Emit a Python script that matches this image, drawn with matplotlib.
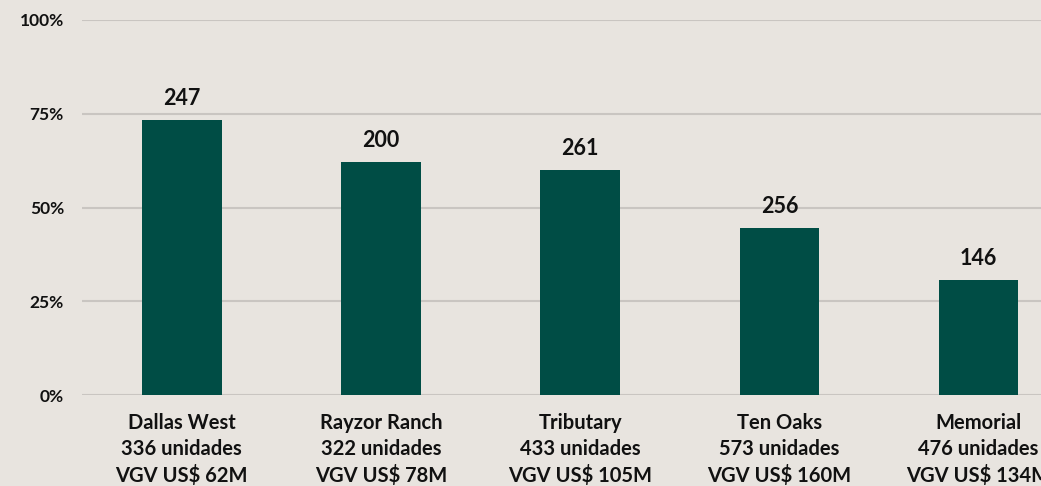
import matplotlib.pyplot as plt
import numpy as np

plt.rcParams["font.family"] = ["Lato", "DejaVu Sans"]

projects = ["Dallas West", "Rayzor Ranch", "Tributary", "Ten Oaks", "Memorial"]
units = [336, 322, 433, 573, 476]
vgv = [62, 78, 105, 160, 134]
pct_sold = [73.3, 62.1, 60.0, 44.5, 30.7]
units_sold = [247, 200, 261, 256, 146]

bg = "#E8E4DF"
bar_color = "#004D45"

fig = plt.figure(figsize=(10.41, 4.86), dpi=100, facecolor=bg)
ax = fig.add_axes([0.0788, 0.187, 0.957, 0.772], facecolor=bg)

x = np.arange(len(projects))
ax.bar(x, pct_sold, width=0.4, color=bar_color, zorder=3)

for xi, p, n in zip(x, pct_sold, units_sold):
    ax.annotate(str(n), (xi, p), xytext=(0, 8), textcoords="offset points",
                ha="center", va="bottom", fontsize=15.5, fontweight="bold",
                color="#111111")

labels = [f"{p}\n{u} unidades\nVGV US$ {v}M" for p, u, v in zip(projects, units, vgv)]
ax.set_xticks(x)
ax.set_xticklabels(labels, fontsize=14.5, fontweight="bold", color="#111111",
                   linespacing=1.36)
ax.set_xlim(-0.5, len(projects) - 0.5)
ax.set_ylim(0, 100)
ax.set_yticks([0, 25, 50, 75, 100])
ax.set_yticklabels([f"{t}%" for t in [0, 25, 50, 75, 100]], fontsize=12.5,
                   fontweight="bold", color="#111111")
ax.tick_params(axis="both", length=0)
ax.tick_params(axis="y", pad=13)
ax.tick_params(axis="x", pad=13)
ax.grid(axis="y", color="#C9C5C1", linewidth=1.5, zorder=0)
ax.set_axisbelow(True)
for s in ax.spines.values():
    s.set_visible(False)

fig.savefig("out.png", dpi=100, facecolor=bg)
